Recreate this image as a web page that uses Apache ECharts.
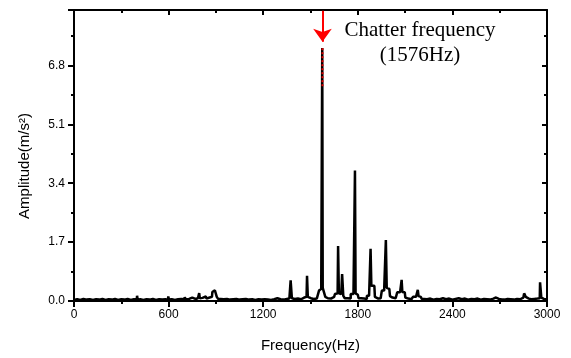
<!DOCTYPE html>
<html>
<head>
<meta charset="utf-8">
<script src="https://cdn.jsdelivr.net/npm/echarts@6/dist/echarts.min.js"></script>
<style>
html,body{margin:0;padding:0;background:#fff;}
#chart{width:571px;height:358px;}
</style>
</head>
<body>
<div id="chart"></div>
<script>
// ---- data ----
var freqHz = [0,20,40,60,80,100,120,140,160,180,200,220,240,260,280,300,320,340,360,380,398,402,406,420,440,460,480,500,520,540,560,580,596,600,604,620,640,660,680,700,705,712,730,750,760,780,792,796,800,815,836,845,860,875,880,890,897,903,908,920,940,960,980,1000,1020,1040,1060,1080,1100,1120,1140,1160,1180,1200,1220,1240,1260,1280,1300,1320,1340,1360,1372,1376,1380,1384,1400,1420,1440,1460,1475,1481,1485,1495,1510,1530,1550,1558,1568,1573,1576,1579,1590,1598,1610,1630,1650,1660,1672,1678,1682,1695,1706,1710,1725,1745,1765,1780,1784,1788,1800,1810,1830,1850,1865,1878,1884,1888,1905,1912,1930,1945,1960,1975,1981,1986,2000,2008,2020,2040,2060,2076,2080,2085,2098,2105,2120,2140,2160,2178,2183,2188,2200,2210,2230,2250,2270,2290,2310,2330,2350,2370,2390,2410,2430,2450,2470,2490,2510,2530,2550,2570,2590,2610,2630,2650,2670,2683,2695,2710,2730,2750,2770,2790,2810,2830,2850,2860,2870,2885,2900,2920,2940,2954,2958,2962,2966,2980,3000];
var amplitude = [0.03,0.05,0.03,0.06,0.04,0.05,0.03,0.05,0.04,0.06,0.03,0.05,0.04,0.06,0.03,0.05,0.04,0.06,0.03,0.05,0.04,0.15,0.04,0.05,0.03,0.05,0.04,0.06,0.03,0.05,0.04,0.05,0.04,0.13,0.04,0.05,0.03,0.05,0.06,0.05,0.11,0.05,0.06,0.10,0.06,0.08,0.07,0.23,0.08,0.09,0.13,0.07,0.10,0.12,0.26,0.27,0.31,0.26,0.12,0.06,0.05,0.06,0.04,0.05,0.06,0.04,0.05,0.06,0.04,0.05,0.03,0.05,0.04,0.05,0.04,0.03,0.05,0.08,0.05,0.04,0.06,0.07,0.08,0.60,0.58,0.08,0.06,0.07,0.05,0.10,0.12,0.73,0.12,0.08,0.06,0.07,0.12,0.30,0.35,0.35,7.30,0.38,0.38,0.12,0.08,0.07,0.12,0.20,0.22,1.59,0.22,0.20,0.78,0.15,0.08,0.07,0.20,0.22,3.77,0.22,0.18,0.08,0.07,0.06,0.15,0.20,1.51,0.44,0.44,0.12,0.07,0.08,0.30,0.38,1.76,0.38,0.35,0.14,0.10,0.08,0.25,0.26,0.61,0.26,0.25,0.10,0.07,0.05,0.12,0.14,0.32,0.14,0.12,0.06,0.05,0.07,0.04,0.06,0.05,0.08,0.05,0.07,0.04,0.06,0.08,0.05,0.07,0.04,0.06,0.05,0.07,0.04,0.06,0.05,0.04,0.07,0.10,0.13,0.06,0.05,0.04,0.06,0.05,0.04,0.06,0.05,0.10,0.22,0.12,0.07,0.05,0.06,0.07,0.08,0.54,0.52,0.10,0.06,0.05];
var chatterFreq = 1576;
var chatterHighlight = [6.2, 7.3];   // red-tinted top of the chatter peak
var arrowSpan = [8.38, 7.48];        // arrow from top of frame down to tip
var xTicks = {min: 0, max: 3000, step: 600};
var yTicks = {min: 0, max: 8.4, step: 1.7};
var labelLine1 = 'Chatter frequency';
var labelLine2 = '(1576Hz)';
var xName = 'Frequency(Hz)';
var yName = 'Amplitude(m/s\u00B2)';

var spectrum = freqHz.map(function (f, i) { return [f, amplitude[i]]; });
var highlight = chatterHighlight.map(function (a) { return [chatterFreq, a]; });

var black = '#000';
var chart = echarts.init(document.getElementById('chart'), null, {renderer: 'canvas'});
function axisBase(extra) {
  return Object.assign({
    type: 'value',
    splitLine: {show: false},
    axisLine: {show: true, onZero: false, lineStyle: {color: black, width: 2}},
    minorSplitLine: {show: false}
  }, extra);
}
chart.setOption({
  animation: false,
  backgroundColor: '#fff',
  grid: {left: 74, right: 24, top: 10, bottom: 56},
  xAxis: [
    axisBase({
      position: 'bottom', min: xTicks.min, max: xTicks.max, interval: xTicks.step,
      axisTick: {show: true, inside: false, length: 6, lineStyle: {color: black, width: 2}},
      minorTick: {show: true, splitNumber: 2, length: 3, lineStyle: {color: black, width: 2}},
      axisLabel: {color: black, fontFamily: 'Liberation Sans, Arial', fontSize: 12, margin: 8,
        formatter: function (v) { return String(v); }},
      name: xName, nameLocation: 'middle', nameGap: 37,
      nameTextStyle: {color: black, fontFamily: 'Liberation Sans, Arial', fontSize: 15}
    }),
    axisBase({
      position: 'top', min: xTicks.min, max: xTicks.max, interval: xTicks.step,
      axisTick: {show: true, inside: true, length: 5, lineStyle: {color: black, width: 2}},
      minorTick: {show: true, splitNumber: 2, length: 3, lineStyle: {color: black, width: 2}},
      axisLabel: {show: false}
    })
  ],
  yAxis: [
    axisBase({
      position: 'left', min: yTicks.min, max: yTicks.max, interval: yTicks.step,
      axisTick: {show: true, inside: false, length: 6, lineStyle: {color: black, width: 2}},
      minorTick: {show: true, splitNumber: 2, length: 3, lineStyle: {color: black, width: 2}},
      axisLabel: {color: black, fontFamily: 'Liberation Sans, Arial', fontSize: 12, margin: 9,
        showMaxLabel: false, formatter: function (v) { return v.toFixed(1); }}
    }),
    axisBase({
      position: 'right', min: yTicks.min, max: yTicks.max, interval: yTicks.step,
      axisTick: {show: true, inside: true, length: 5, lineStyle: {color: black, width: 2}},
      minorTick: {show: true, splitNumber: 2, length: 3, lineStyle: {color: black, width: 2}},
      axisLabel: {show: false}
    })
  ],
  series: [
    {
      type: 'line', xAxisIndex: 0, yAxisIndex: 0, data: spectrum,
      showSymbol: false, symbol: 'none', step: 'middle',
      lineStyle: {color: black, width: 2.5, join: 'bevel', cap: 'butt'}, z: 3
    },
    {
      type: 'line', xAxisIndex: 0, yAxisIndex: 0, data: highlight,
      showSymbol: false, symbol: 'none',
      lineStyle: {color: '#e00000', width: 2, type: 'dotted'}, z: 4,
      markLine: {
        silent: true, symbol: ['none', 'arrow'], symbolSize: [14, 13],
        label: {show: false},
        lineStyle: {color: '#ff0000', width: 2, type: 'solid'},
        data: [[{coord: [chatterFreq, arrowSpan[0]]}, {coord: [chatterFreq, arrowSpan[1]]}]]
      }
    }
  ],
  graphic: [
    {type: 'text', x: 420, y: 30,
      style: {text: labelLine1, fill: black, font: '21px "Liberation Serif", "Times New Roman", serif',
        textAlign: 'center', textVerticalAlign: 'middle'}},
    {type: 'text', x: 420, y: 55,
      style: {text: labelLine2, fill: black, font: '21px "Liberation Serif", "Times New Roman", serif',
        textAlign: 'center', textVerticalAlign: 'middle'}},
    {type: 'text', x: 25, y: 166, rotation: Math.PI / 2,
      style: {text: yName, fill: black, font: '15px "Liberation Sans", Arial, sans-serif',
        textAlign: 'center', textVerticalAlign: 'middle'}}
  ]
});
</script>
</body>
</html>
